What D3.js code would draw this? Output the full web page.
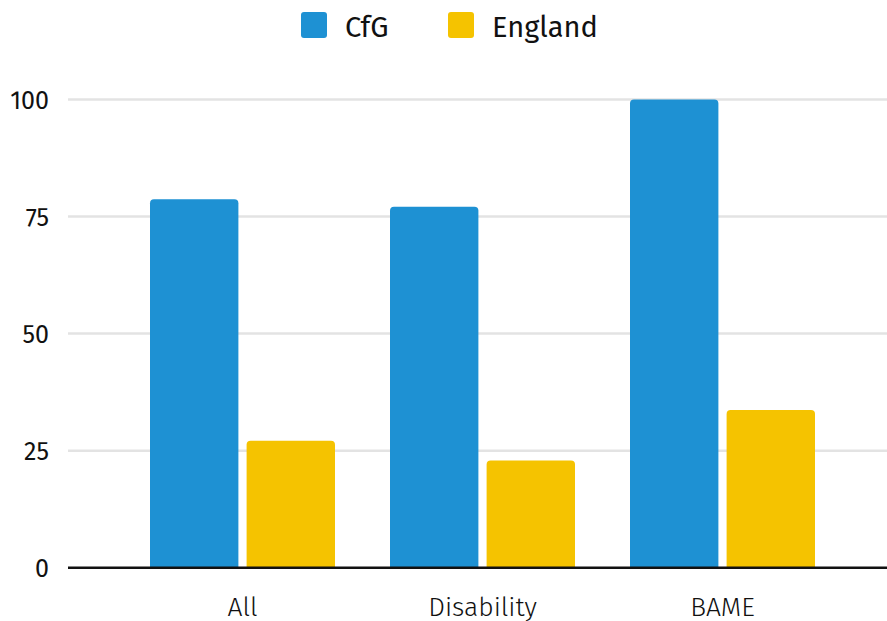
<!DOCTYPE html>
<html>
<head>
<meta charset="utf-8">
<script src="https://cdn.jsdelivr.net/npm/d3@7"></script>
<style>
  html, body { margin: 0; padding: 0; background: #fff; }
  svg { display: block; font-family: "Fira Sans", "Noto Sans", "Open Sans", sans-serif; }
</style>
</head>
<body>
<svg id="chart" width="887" height="621"></svg>
<script>
// Grouped bar chart: CfG vs England
const categories = ["All", "Disability", "BAME"];
const seriesNames = ["CfG", "England"];
const cfgValues = [78.7, 77.1, 100];
const englandValues = [27.1, 22.9, 33.7];
const yTicks = [0, 25, 50, 75, 100];
const colors = ["#1e91d3", "#f5c300"];

const seriesValues = [cfgValues, englandValues];
const data = categories.map((c, i) => ({
  category: c,
  values: seriesNames.map((s, j) => ({ series: s, value: seriesValues[j][i], color: colors[j] }))
}));

const plotLeft = 68, plotRight = 887;
const svg = d3.select("#chart");

const y = d3.scaleLinear().domain([0, 100]).range([567.7, 99.5]);

const x0 = d3.scaleBand()
  .domain(categories)
  .range([122.5, 842.5])
  .paddingInner(55 / 240)
  .paddingOuter(55 / 480);

const x1 = d3.scaleBand()
  .domain(seriesNames)
  .range([0, x0.bandwidth()])
  .paddingInner(0.085);

// Gridlines
svg.append("g")
  .selectAll("line")
  .data(yTicks.filter(t => t !== 0))
  .join("line")
  .attr("x1", plotLeft)
  .attr("x2", plotRight)
  .attr("y1", d => y(d))
  .attr("y2", d => y(d))
  .attr("stroke", "#e3e3e3")
  .attr("stroke-width", 2.5);

// Y axis labels
const yAxis = d3.axisLeft(y).tickValues(yTicks).tickSize(0).tickPadding(0);
const yg = svg.append("g")
  .attr("transform", `translate(49,0)`)
  .call(yAxis);
yg.select(".domain").remove();
yg.selectAll("text")
  .attr("font-size", 25)
  .attr("fill", "#111")
  .attr("font-family", "'Fira Sans', 'Noto Sans', sans-serif")
  .attr("dy", "0.35em");

// Bars with rounded top corners
function topRounded(x, yTop, w, h, r) {
  r = Math.min(r, h, w / 2);
  return `M${x},${yTop + h}V${yTop + r}Q${x},${yTop} ${x + r},${yTop}` +
         `H${x + w - r}Q${x + w},${yTop} ${x + w},${yTop + r}V${yTop + h}Z`;
}

const groups = svg.append("g")
  .selectAll("g")
  .data(data)
  .join("g")
  .attr("transform", d => `translate(${x0(d.category)},0)`);

groups.selectAll("path")
  .data(d => d.values)
  .join("path")
  .attr("d", d => topRounded(x1(d.series), y(d.value), x1.bandwidth(), y(0) - y(d.value), 4))
  .attr("fill", d => d.color);

// Category labels
const xAxis = d3.axisBottom(x0).tickSize(0).tickPadding(0);
const xg = svg.append("g")
  .attr("transform", `translate(0,${y(0)})`)
  .call(xAxis);
xg.select(".domain").remove();
xg.selectAll("text")
  .attr("font-size", 26.5)
  .attr("font-weight", 300)
  .attr("fill", "#111")
  .attr("font-family", "'Fira Sans', 'Noto Sans', sans-serif")
  .attr("dy", 0)
  .attr("y", 48.5);

// Baseline
svg.append("line")
  .attr("x1", plotLeft)
  .attr("x2", plotRight)
  .attr("y1", y(0))
  .attr("y2", y(0))
  .attr("stroke", "#111")
  .attr("stroke-width", 2.5);

// Legend
const legendItems = [
  { name: seriesNames[0], color: colors[0], x: 301 },
  { name: seriesNames[1], color: colors[1], x: 448 }
];
const legend = svg.append("g");
const li = legend.selectAll("g")
  .data(legendItems)
  .join("g")
  .attr("transform", d => `translate(${d.x},12)`);
li.append("rect")
  .attr("width", 26)
  .attr("height", 26)
  .attr("rx", 3)
  .attr("fill", d => d.color);
li.append("text")
  .attr("x", 44)
  .attr("y", 24.5)
  .attr("font-size", 29)
  .attr("fill", "#111")
  .text(d => d.name);
</script>
</body>
</html>
